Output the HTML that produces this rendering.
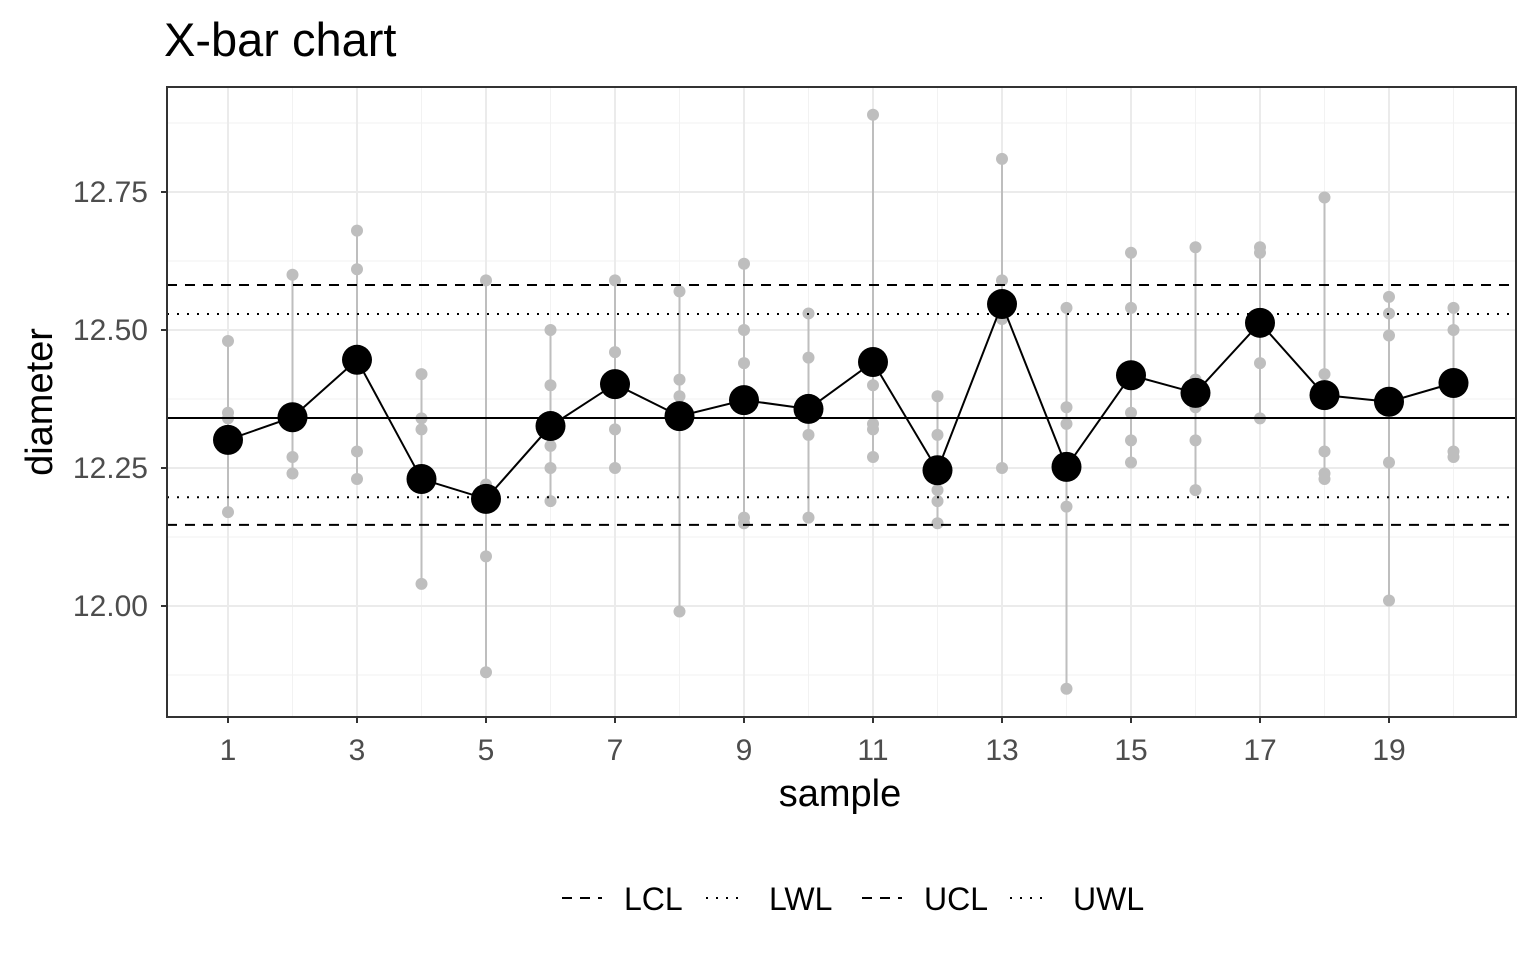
<!DOCTYPE html>
<html><head><meta charset="utf-8"><style>
html,body{margin:0;padding:0;background:#fff;}
svg{display:block;font-family:"Liberation Sans",Arial,sans-serif;}
</style></head><body>
<svg id="chart" width="1536" height="960"></svg>
<script>
const samples=[1,2,3,4,5,6,7,8,9,10,11,12,13,14,15,16,17,18,19,20];
const means=[12.301,12.342,12.446,12.230,12.194,12.326,12.402,12.344,12.373,12.357,12.442,12.246,12.547,12.252,12.418,12.386,12.513,12.382,12.370,12.404];
const obs=[
[12.48,12.35,12.34,12.17],[12.60,12.34,12.27,12.24],[12.68,12.61,12.28,12.23],[12.42,12.34,12.32,12.04],
[12.59,12.22,12.09,11.88],[12.50,12.40,12.29,12.25,12.19],[12.59,12.46,12.32,12.25],[12.57,12.41,12.38,11.99],
[12.62,12.50,12.44,12.16,12.15],[12.53,12.45,12.31,12.16],[12.89,12.40,12.33,12.32,12.27],[12.38,12.31,12.21,12.19,12.15],
[12.81,12.59,12.52,12.25],[12.54,12.36,12.33,12.18,11.85],[12.64,12.54,12.35,12.30,12.26],[12.65,12.41,12.36,12.30,12.21],
[12.65,12.64,12.44,12.34],[12.74,12.42,12.28,12.24,12.23],[12.56,12.53,12.49,12.26,12.01],[12.54,12.50,12.28,12.27]];
const centerLine=12.3406;
const limitNames=["LCL","LWL","UCL","UWL"];
const limitValues=[12.147,12.197,12.5815,12.529];
const yTicks=[12.00,12.25,12.50,12.75];
const yTickLabels=["12.00","12.25","12.50","12.75"];
const yMinor=[11.875,12.125,12.375,12.625,12.875];
const xTicks=[1,3,5,7,9,11,13,15,17,19];
const xMinor=[2,4,6,8,10,12,14,16,18,20];

const L=167,R=1516,T=87,B=717;
const x=s=>228+(s-1)*64.5;
const y=v=>606-(v-12)*552;
const svg=document.getElementById('chart');
const NS="http://www.w3.org/2000/svg";
function el(tag,attrs,text){const e=document.createElementNS(NS,tag);for(const k in attrs)e.setAttribute(k,attrs[k]);if(text!==undefined)e.textContent=text;svg.appendChild(e);return e;}
let e;
e=el('rect',{x:L,y:T,width:R-L,height:B-T,fill:'#fff'});


yMinor.forEach(v=>{e=el('line',{x1:L,x2:R,y1:y(v),y2:y(v),stroke:'#f2f2f2','stroke-width':1});

});
xMinor.forEach(s=>{e=el('line',{x1:x(s),x2:x(s),y1:T,y2:B,stroke:'#f2f2f2','stroke-width':1});

});
yTicks.forEach(v=>{e=el('line',{x1:L,x2:R,y1:y(v),y2:y(v),stroke:'#ebebeb','stroke-width':2});

});
xTicks.forEach(s=>{e=el('line',{x1:x(s),x2:x(s),y1:T,y2:B,stroke:'#ebebeb','stroke-width':2});

});
samples.forEach((s,i)=>{const mn=Math.min(...obs[i]),mx=Math.max(...obs[i]);
e=el('line',{x1:x(s),x2:x(s),y1:y(mn),y2:y(mx),stroke:'#bebebe','stroke-width':2});


obs[i].forEach(v=>{e=el('circle',{cx:x(s),cy:y(v),r:6,fill:'#bebebe'});

});});
limitValues.forEach((v,i)=>{const dash=limitNames[i][1]==='C'?'10,8':'2,8';
e=el('line',{x1:L,x2:R,y1:y(v),y2:y(v),stroke:'#000','stroke-width':2,'stroke-dasharray':dash});

});
e=el('line',{x1:L,x2:R,y1:y(centerLine),y2:y(centerLine),stroke:'#000','stroke-width':2});


e=el('polyline',{points:samples.map((s,i)=>x(s)+','+y(means[i])).join(' '),fill:'none',stroke:'#000','stroke-width':2});


samples.forEach((s,i)=>{e=el('circle',{cx:x(s),cy:y(means[i]),r:15,fill:'#000'});

});
e=el('rect',{x:L,y:T,width:R-L,height:B-T,fill:'none',stroke:'#333','stroke-width':2});


yTicks.forEach((v,i)=>{e=el('line',{x1:L-6,x2:L,y1:y(v),y2:y(v),stroke:'#333','stroke-width':2});


e=el('text',{x:L-19,y:y(v)+10,'text-anchor':'end','font-size':30,fill:'#4d4d4d'},yTickLabels[i]);

});
xTicks.forEach(s=>{e=el('line',{x1:x(s),x2:x(s),y1:B,y2:B+6,stroke:'#333','stroke-width':2});


e=el('text',{x:x(s),y:B+43,'text-anchor':'middle','font-size':30,fill:'#4d4d4d'},String(s));

});
e=el('text',{x:840,y:806,'text-anchor':'middle','font-size':38,fill:'#000'},'sample');


e=el('text',{x:52,y:402,'text-anchor':'middle','font-size':38,fill:'#000',transform:'rotate(-90 52 402)'},'diameter');


e=el('text',{x:164,y:56,'font-size':47,fill:'#000'},'X-bar chart');


const legX=[562,706,862,1010];
const legTX=[624,769,924,1073];
limitNames.forEach((n,i)=>{const dash=n[1]==='C'?'10,8':'2,8';
e=el('line',{x1:legX[i],x2:legX[i]+40,y1:898,y2:898,stroke:'#000','stroke-width':2,'stroke-dasharray':dash});


e=el('text',{x:legTX[i],y:910,'font-size':32,fill:'#000'},n);

});
</script>
</body></html>
